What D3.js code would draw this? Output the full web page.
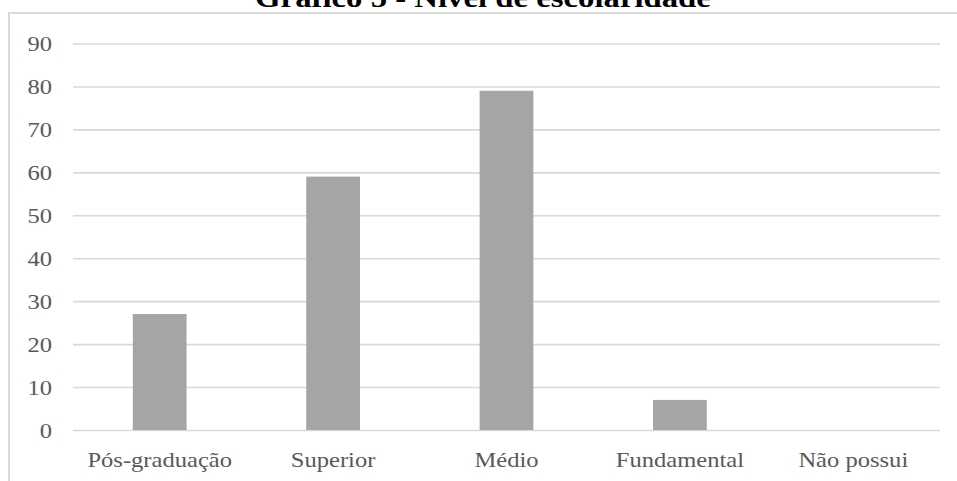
<!DOCTYPE html>
<html>
<head>
<meta charset="utf-8">
<script src="https://cdn.jsdelivr.net/npm/d3@7"></script>
<style>
  html, body { margin: 0; padding: 0; background: #fff; }
  svg { display: block; }
</style>
</head>
<body>
<svg id="chart" width="957" height="481"></svg>
<script>
// Nível de escolaridade dos respondentes
const categories = ["Pós-graduação", "Superior", "Médio", "Fundamental", "Não possui"];
const counts = [27, 59, 79, 7, 0];
const yTicks = [0, 10, 20, 30, 40, 50, 60, 70, 80, 90];
const title = "Gráfico 5 - Nível de escolaridade";

const svg = d3.select("#chart");
const W = 957, H = 481;
const plot = { left: 73, right: 940, top: 43.5, bottom: 430 };
const stretch = 1.17; // wide glyphs

const x = d3.scaleBand()
  .domain(categories)
  .range([plot.left, plot.right])
  .paddingInner(0.69)
  .paddingOuter(0.345);

const y = d3.scaleLinear()
  .domain([0, 90])
  .range([plot.bottom, plot.top]);

// chart frame
svg.append("path")
  .attr("d", `M9,${H} V13 H${W}`)
  .attr("fill", "none")
  .attr("stroke", "#d9d9d9")
  .attr("stroke-width", 2);

// title (sits above the frame, partly off the top edge)
svg.append("text")
  .attr("transform", `translate(483,7) scale(${stretch},1)`)
  .attr("text-anchor", "middle")
  .attr("font-family", "'Liberation Serif', 'Times New Roman', serif")
  .attr("font-weight", "bold")
  .attr("font-size", 28)
  .attr("fill", "#000")
  .text(title);

// gridlines
const yAxis = d3.axisLeft(y).tickValues(yTicks).tickSize(0).tickPadding(0);
const gy = svg.append("g").call(yAxis);
gy.select(".domain").remove();
gy.selectAll(".tick line")
  .attr("x1", 0).attr("x2", plot.right - plot.left)
  .attr("transform", `translate(${plot.left},0)`)
  .attr("stroke", "#d9d9d9")
  .attr("stroke-width", 1.6);
gy.selectAll(".tick text")
  .attr("x", null).attr("dy", null)
  .attr("transform", `translate(52,7) scale(${stretch},1)`)
  .attr("text-anchor", "end")
  .attr("font-family", "'Liberation Serif', 'Times New Roman', serif")
  .attr("font-size", 21)
  .attr("fill", "#595959");

// bars
svg.append("g")
  .selectAll("rect")
  .data(categories.map((c, i) => ({ c, v: counts[i] })))
  .join("rect")
  .attr("x", d => x(d.c))
  .attr("width", x.bandwidth())
  .attr("y", d => y(d.v))
  .attr("height", d => y(0) - y(d.v))
  .attr("fill", "#a5a5a5");

// category axis
const xAxis = d3.axisBottom(x).tickSize(0).tickPadding(0);
const gx = svg.append("g").attr("transform", `translate(0,${plot.bottom})`).call(xAxis);
gx.select(".domain").remove();
gx.selectAll(".tick text")
  .attr("y", null).attr("dy", null)
  .attr("transform", `translate(0,37) scale(${stretch},1)`)
  .attr("text-anchor", "middle")
  .attr("font-family", "'Liberation Serif', 'Times New Roman', serif")
  .attr("font-size", 21)
  .attr("fill", "#595959");
</script>
</body>
</html>
